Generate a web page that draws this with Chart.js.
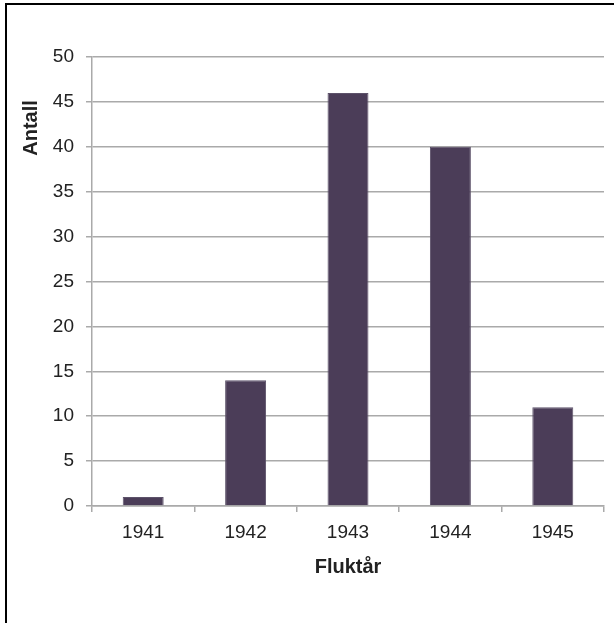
<!DOCTYPE html>
<html>
<head>
<meta charset="utf-8">
<script src="https://cdn.jsdelivr.net/npm/chart.js@4"></script>
<style>
  html, body { margin: 0; padding: 0; overflow: hidden; background: #fff; }
  #frame { position: absolute; left: 5px; top: 3px; width: 800px; height: 800px; border: 2px solid #000; }
  #wrap { position: absolute; left: 0; top: 0; width: 614px; height: 623px; }
</style>
</head>
<body>
<div id="frame"></div>
<div id="wrap"><canvas id="c" width="614" height="623"></canvas></div>
<script>
// Antall flyktninger per fluktår
const categories = ['1941', '1942', '1943', '1944', '1945'];
const antall = [1, 14, 46, 40, 11];
const yTicks = [0, 5, 10, 15, 20, 25, 30, 35, 40, 45, 50];
const xTitle = 'Fluktår';
const yTitle = 'Antall';

const FONT = '"Liberation Sans", Arial, sans-serif';

// y-aksetittelen står øverst ved siden av aksen
const yTitlePlugin = {
  id: 'yTitle',
  afterDraw(chart) {
    const ctx = chart.ctx;
    ctx.save();
    ctx.translate(31, 128);
    ctx.rotate(-Math.PI / 2);
    ctx.font = 'bold 20px ' + FONT;
    ctx.fillStyle = '#222';
    ctx.textAlign = 'center';
    ctx.textBaseline = 'middle';
    ctx.fillText(yTitle, 0, 0);
    ctx.restore();
  }
};

new Chart(document.getElementById('c'), {
  type: 'bar',
  data: {
    labels: categories,
    datasets: [{
      data: antall,
      backgroundColor: '#4b3d58',
      borderColor: '#5d526a',
      borderWidth: 1,
      barPercentage: 0.4,
      categoryPercentage: 1.0
    }]
  },
  options: {
    responsive: false,
    animation: false,
    layout: { padding: { top: 57, right: 10, left: 0, bottom: 0 } },
    plugins: { legend: { display: false }, tooltip: { enabled: false } },
    scales: {
      x: {
        offset: true,
        grid: { offset: true, drawOnChartArea: false, drawTicks: true, tickLength: 6, color: '#aaaaaa', lineWidth: 1.5 },
        border: { color: '#aaaaaa', width: 1.5 },
        ticks: { font: { family: FONT, size: 19 }, color: '#222', padding: 9 },
        title: { display: true, text: xTitle, font: { family: FONT, size: 20, weight: 'bold' }, color: '#222', padding: { top: 4, bottom: 44 } },
        afterFit(scale) { scale.height = 117; }
      },
      y: {
        min: 0, max: 50,
        afterBuildTicks(scale) { scale.ticks = yTicks.map(v => ({ value: v })); },
        grid: { color: '#aaaaaa', lineWidth: 1.5, tickLength: 6 },
        border: { color: '#aaaaaa', width: 1.5 },
        ticks: { font: { family: FONT, size: 19 }, color: '#222', padding: 12 },
        afterFit(scale) { scale.width = 92; }
      }
    }
  },
  plugins: [yTitlePlugin]
});
</script>
</body>
</html>
